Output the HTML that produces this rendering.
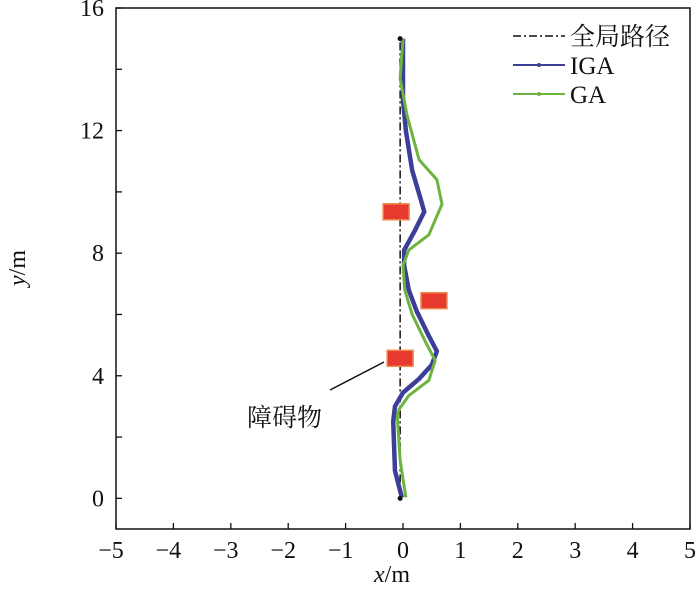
<!DOCTYPE html>
<html><head><meta charset="utf-8"><style>
body{margin:0;background:#fff}
svg text{font-family:"Liberation Serif","Noto Serif CJK SC",serif;fill:#111}
</style></head><body>
<svg id="chart" width="700" height="584" viewBox="0 0 700 584" xmlns="http://www.w3.org/2000/svg">
<g id="plot"></g>
</svg>
<script>
const xTicks=[-5,-4,-3,-2,-1,0,1,2,3,4,5];
const yTicks=[0,2,4,6,8,10,12,14,16];
const yLabels=[0,4,8,12,16];
const globalX=[-0.05,-0.05];
const globalY=[0,15];
const igaX=[-0.02,-0.14,-0.17,-0.14,0,0.28,0.5,0.59,0.45,0.24,0.1,0.02,0.02,0.21,0.37,0.31,0.16,0.05,0,0];
const igaY=[0.03,0.9,2.5,3.0,3.45,3.9,4.35,4.8,5.3,6.1,6.8,7.6,8.1,8.75,9.35,9.75,10.7,12,13,15];
const gaX=[0.05,-0.05,-0.1,-0.07,0.1,0.45,0.56,0.38,0.16,0.03,0,0.1,0.45,0.68,0.59,0.28,0.07,-0.05,0];
const gaY=[0.03,1.25,2.7,2.9,3.35,3.85,4.5,5.15,6,6.8,7.6,8.1,8.6,9.6,10.4,11.05,12.5,13.7,15];
const obsX=[-0.12,0.54,-0.05];
const obsY=[9.35,6.45,4.57];
const L=116,R=690,T=8,B=529,xmin=-5,xmax=5,ymin=-1,ymax=16;
const sx=v=>L+(v-xmin)/(xmax-xmin)*(R-L);
const sy=v=>B-(v-ymin)/(ymax-ymin)*(B-T);
const NS='http://www.w3.org/2000/svg';
const g=document.getElementById('plot');
function mk(t,a,txt){const e=document.createElementNS(NS,t);for(const k in a)e.setAttribute(k,a[k]);if(txt!==undefined)e.textContent=txt;g.appendChild(e);return e;}
let e=mk('rect',{x:L,y:T,width:R-L,height:B-T,fill:'none',stroke:'#111','stroke-width':1.5});


xTicks.forEach(v=>{
 e=mk('line',{x1:sx(v),x2:sx(v),y1:B,y2:B-6,stroke:'#111','stroke-width':1.3});
 
 
 e=mk('text',{x:sx(v)-(v<0?5:0),y:B+29,'text-anchor':'middle','font-size':24},(v<0?'\u2212':'')+Math.abs(v));
 
 
});
yTicks.forEach(v=>{
 e=mk('line',{x1:L,x2:L+6,y1:sy(v),y2:sy(v),stroke:'#111','stroke-width':1.3});
 
 
});
yLabels.forEach(v=>{
 e=mk('text',{x:L-12,y:sy(v)+8,'text-anchor':'end','font-size':24},String(v));
 
 
});
e=mk('text',{x:0,y:0,'font-size':24,'text-anchor':'middle',transform:'translate(25,268) rotate(-90)'});
e.innerHTML='<tspan font-style="italic">y</tspan>/m';


e=mk('text',{x:392,y:582,'font-size':24,'text-anchor':'middle'});
e.innerHTML='<tspan font-style="italic">x</tspan>/m';


function pts(xs,ys){return xs.map((x,i)=>sx(x)+','+sy(ys[i])).join(' ');}
e=mk('polyline',{points:pts(globalX,globalY),fill:'none',stroke:'#111','stroke-width':1.5,'stroke-dasharray':'8,3,2,3'});


obsX.forEach((x,i)=>{
 e=mk('rect',{x:sx(x)-13,y:sy(obsY[i])-8,width:26,height:16,fill:'#e63a2e',stroke:'#f08a50','stroke-width':1.5});
 
 
});
e=mk('polyline',{points:pts(igaX,igaY),fill:'none',stroke:'#3b3f97','stroke-width':4.5,'stroke-linejoin':'round'});


e=mk('polyline',{points:pts(gaX,gaY),fill:'none',stroke:'#6db33f','stroke-width':3,'stroke-linejoin':'round'});


e=mk('circle',{cx:sx(globalX[0]),cy:sy(globalY[0]),r:2.5,fill:'#111'});


e=mk('circle',{cx:sx(globalX[1]),cy:sy(globalY[1]),r:2.5,fill:'#111'});


e=mk('line',{x1:330,y1:390,x2:384,y2:362,stroke:'#111','stroke-width':1.5});


e=mk('text',{x:247,y:426,'font-size':25},'障碍物');


const leg=[['全局路径','#111','8,3,2,3',1.5],['IGA','#3b3f97','',2],['GA','#6db33f','',2]];
leg.forEach((l,i)=>{
 const y=36+i*29;
 e=mk('line',{x1:513,x2:565,y1:y,y2:y,stroke:l[1],'stroke-width':l[3],'stroke-dasharray':l[2]});
 
 
 if(i>0){e=mk('circle',{cx:539,cy:y,r:2,fill:l[1]});
 
 }
 e=mk('text',{x:570,y:y+9,'font-size':25},l[0]);
 
 
});
</script>
</body></html>
